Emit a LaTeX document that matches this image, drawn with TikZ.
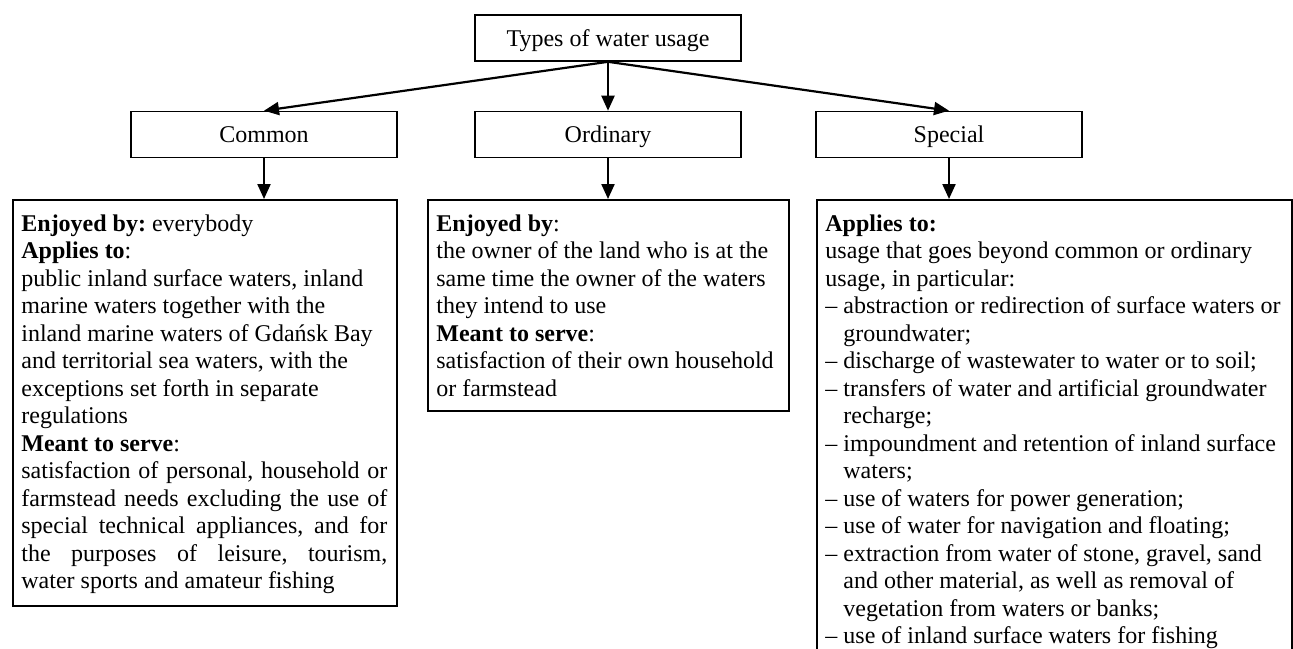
\documentclass[tikz,border=0pt]{standalone}
\usepackage{fontspec}
\setmainfont{Liberation Serif}
\usetikzlibrary{arrows.meta}
\tikzset{
  head/.style={draw,line width=0.8pt,minimum width=133pt,minimum height=23pt,inner sep=0pt,text height=10.5pt,text depth=2.5pt},
  panel/.style={draw,line width=0.8pt,anchor=north west,inner sep=0pt},
  txt/.style={anchor=north west,inner sep=0pt},
  link/.style={->,line width=1.1pt}
}
\newcommand{\setsp}{\raggedright\frenchspacing\spaceskip=0.25em plus 0.6em minus 0.05em\xspaceskip=\spaceskip\strut}
\newcommand{\jline}[1]{\makebox[183pt][s]{#1}}
\newcommand{\itm}{\makebox[9pt][l]{–}}
\newcommand{\cnt}{\hspace*{9pt}}

\begin{document}
\begin{tikzpicture}[>={Triangle[length=7.5pt,width=6.5pt]},x=0.5pt,y=-0.5pt,font=\fontsize{12pt}{13.75pt}\selectfont]
\useasboundingbox (0,0) rectangle (1293,648);
\node[head] (types) at (608,38) {Types of water usage};
\node[head] (common) at (264,134.5) {Common};
\node[head] (ordinary) at (608,134.5) {Ordinary};
\node[head] (special) at (949,134.5) {Special};
\node[panel,minimum width=192pt,minimum height=203pt] (commonbox) at (12,199) {};
\node[panel,minimum width=180.5pt,minimum height=105.5pt] (ordinarybox) at (427,199) {};
\node[panel,minimum width=237.5pt,minimum height=236pt] (specialbox) at (816,199) {};
\draw[link] (types.south) -- (common.north);
\draw[link] (types.south) -- (ordinary.north);
\draw[link] (types.south) -- (special.north);
\draw[link] (common.south) -- (common.south |- commonbox.north);
\draw[link] (ordinary.south) -- (ordinary.south |- ordinarybox.north);
\draw[link] (special.south) -- (special.south |- specialbox.north);
\node[txt,text width=186pt] (commontext) at ([shift={(4.5pt,-6.3pt)}]commonbox.north west) {\setsp\textbf{Enjoyed by:} everybody\\
\textbf{Applies to}:\\
public inland surface waters, inland\\
marine waters together with the\\
inland marine waters of Gdańsk Bay\\
and territorial sea waters, with the\\
exceptions set forth in separate\\
regulations\\
\textbf{Meant to serve}:\\
\jline{satisfaction of personal, household or}\\
\jline{farmstead needs excluding the use of}\\
\jline{special technical appliances, and for}\\
\jline{the purposes of leisure, tourism,}\\
water sports and amateur fishing};
\node[txt,text width=176pt] (ordinarytext) at ([shift={(4.5pt,-6.3pt)}]ordinarybox.north west) {\setsp\textbf{Enjoyed by}:\\
the owner of the land who is at the\\
same time the owner of the waters\\
they intend to use\\
\textbf{Meant to serve}:\\
satisfaction of their own household\\
or farmstead};
\node[txt,text width=236pt] (specialtext) at ([shift={(4.5pt,-6.3pt)}]specialbox.north west) {\setsp\textbf{Applies to:}\\
usage that goes beyond common or ordinary\\
usage, in particular:\\
\itm abstraction or redirection of surface waters or\\
\cnt groundwater;\\
\itm discharge of wastewater to water or to soil;\\
\itm transfers of water and artificial groundwater\\
\cnt recharge;\\
\itm impoundment and retention of inland surface\\
\cnt waters;\\
\itm use of waters for power generation;\\
\itm use of water for navigation and floating;\\
\itm extraction from water of stone, gravel, sand\\
\cnt and other material, as well as removal of\\
\cnt vegetation from waters or banks;\\
\itm use of inland surface waters for fishing};
\end{tikzpicture}
\end{document}
